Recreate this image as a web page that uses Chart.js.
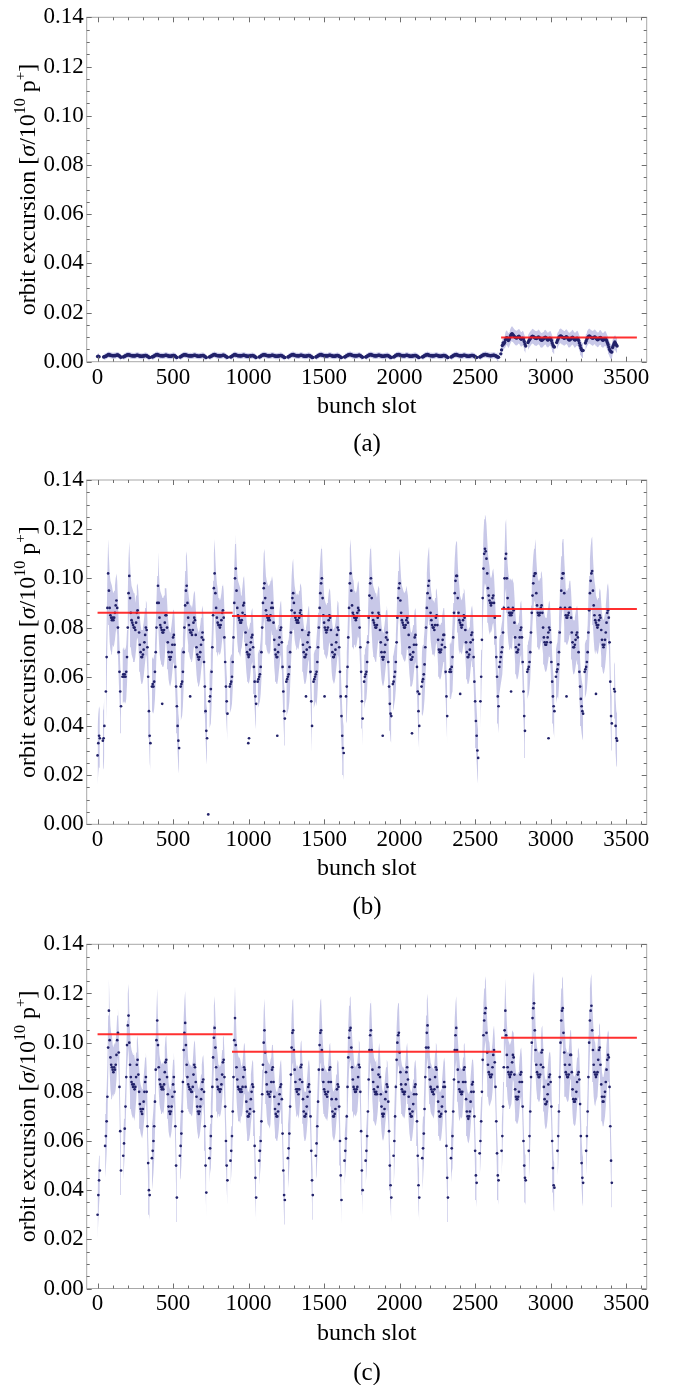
<!DOCTYPE html>
<html>
<head>
<meta charset="utf-8">
<script src="https://cdn.jsdelivr.net/npm/chart.js@4.4.1/dist/chart.umd.min.js"></script>
<style>
html,body{margin:0;padding:0;background:#fff;}
body{width:673px;height:1385px;position:relative;overflow:hidden;}
canvas{position:absolute;left:0;}
.cap{position:absolute;left:87px;width:560px;text-align:center;font-family:'Liberation Serif','DejaVu Serif',serif;font-size:25px;line-height:30px;color:#000;}
</style>
</head>
<body>
<canvas id="ca" width="673" height="462" style="top:0px"></canvas>
<canvas id="cb" width="673" height="462" style="top:462px"></canvas>
<canvas id="cc" width="673" height="461" style="top:924px"></canvas>
<div class="cap" style="top:428px">(a)</div>
<div class="cap" style="top:891px">(b)</div>
<div class="cap" style="top:1357px">(c)</div>
<script>
const _ = null;
// Values every 5 bunch slots, in units of 1e-3 sigma / 1e10 p+
const slotStep = 5;
// Band half-widths, one per 50 bunch slots, same units
const errBlock = 50;

const xTicks = [0, 500, 1000, 1500, 2000, 2500, 3000, 3500];
const xTickLabels = ['0', '500', '1000', '1500', '2000', '2500', '3000', '3500'];
const yTicks = [0, 0.02, 0.04, 0.06, 0.08, 0.10, 0.12, 0.14];
const yTickLabels = ['0.00', '0.02', '0.04', '0.06', '0.08', '0.10', '0.12', '0.14'];

// Average lines (red), per filling segment
const meanStart = [0, 890, 2672];
const meanEnd = [894, 2672, 3571];
const meanA = [_, _, 9.8];
const meanB = [86.0, 84.7, 87.5];
const meanC = [103.4, 96.3, 102.0];

const valuesA = [
2.1,2.2,2.0,_,_,_,_,_,1.9,2.0,2.1,2.2,2.4,2.6,2.8,2.9,2.7,2.6,2.5,2.5,
2.4,2.4,2.5,2.4,2.5,2.6,2.7,2.7,2.5,2.3,2.0,1.8,_,_,1.9,2.1,2.2,2.4,2.5,2.7,
2.8,2.8,2.7,2.6,2.5,2.4,2.4,2.3,2.4,2.3,2.4,2.5,2.6,2.6,2.5,2.4,2.3,2.2,2.2,2.2,
2.3,2.3,2.4,2.5,2.5,2.4,2.2,2.0,1.8,1.7,_,_,1.9,2.0,2.1,2.3,2.5,2.7,2.8,2.9,
2.7,2.6,2.5,2.4,2.4,2.4,2.3,2.4,2.4,2.5,2.6,2.6,2.5,2.4,2.3,2.2,2.2,2.2,2.3,2.4,
2.5,2.5,2.4,2.2,1.9,1.7,_,_,_,1.9,2.0,2.2,2.4,2.6,2.7,2.8,2.8,2.7,2.6,2.5,
2.4,2.4,2.3,2.4,2.3,2.4,2.4,2.5,2.6,2.6,2.5,2.4,2.3,2.2,2.2,2.2,2.3,2.4,2.4,2.5,
2.5,2.3,2.1,1.9,1.7,_,_,_,1.9,2.0,2.2,2.3,2.5,2.7,2.8,2.9,2.7,2.6,2.5,2.4,
2.4,2.4,2.3,2.4,2.4,2.5,2.6,2.6,2.5,2.3,2.1,1.9,1.8,_,_,_,1.9,2.0,2.2,2.4,
2.6,2.8,2.9,2.7,2.6,2.5,2.4,2.4,2.4,2.3,2.4,2.4,2.5,2.6,2.6,2.5,2.4,2.3,2.2,2.2,
2.2,2.2,2.3,2.4,2.4,2.5,2.4,2.3,2.1,1.9,1.7,_,_,_,1.9,2.0,2.2,2.4,2.6,2.7,
2.8,2.8,2.7,2.6,2.5,2.4,2.4,2.3,2.4,2.4,2.5,2.6,2.6,2.5,2.4,2.3,2.2,2.2,2.2,2.3,
2.3,2.4,2.5,2.5,2.4,2.2,2.0,1.8,1.7,_,_,_,1.9,2.0,2.2,2.4,2.6,2.7,2.8,2.9,
2.7,2.6,2.5,2.4,2.4,2.4,2.3,2.4,2.5,2.6,2.6,2.5,2.4,2.3,2.2,2.2,2.2,2.3,2.4,2.5,
2.5,2.4,2.2,2.0,1.8,1.7,_,_,_,1.9,2.0,2.2,2.4,2.6,2.7,2.8,2.9,2.7,2.6,2.5,
2.4,2.4,2.3,2.4,2.3,2.4,2.5,2.6,2.6,2.5,2.4,2.3,2.2,2.2,2.2,2.3,2.4,2.5,2.5,2.4,
2.2,2.0,1.8,1.7,_,_,_,1.9,2.0,2.2,2.4,2.6,2.7,2.8,2.9,2.9,2.7,2.6,2.5,2.4,
2.4,2.4,2.3,2.4,2.4,2.5,2.6,2.6,2.4,2.2,2.0,1.8,_,_,_,1.9,2.0,2.2,2.4,2.6,
2.7,2.8,2.9,2.7,2.6,2.5,2.4,2.4,2.3,2.4,2.4,2.5,2.6,2.6,2.5,2.4,2.3,2.2,2.2,2.2,
2.3,2.4,2.4,2.5,2.5,2.4,2.2,2.0,1.8,1.7,_,_,1.9,2.1,2.3,2.5,2.7,2.8,2.8,2.9,
2.7,2.6,2.5,2.4,2.4,2.4,2.3,2.4,2.5,2.6,2.6,2.5,2.4,2.3,2.2,2.2,2.2,2.3,2.4,2.4,
2.5,2.5,2.4,2.2,2.0,1.8,1.7,_,_,_,1.9,2.0,2.2,2.4,2.6,2.7,2.8,2.9,2.7,2.6,
2.5,2.4,2.4,2.4,2.3,2.4,2.4,2.5,2.6,2.6,2.5,2.4,2.3,2.2,2.2,2.2,2.3,2.4,2.5,2.5,
2.4,2.3,2.1,1.9,1.7,_,_,_,1.9,2.0,2.2,2.4,2.6,2.7,2.8,2.9,2.7,2.6,2.5,2.4,
2.4,2.4,2.3,2.4,2.5,2.6,2.6,2.5,2.4,2.3,2.2,2.2,2.2,2.3,2.4,2.5,2.5,2.5,2.4,2.2,
2.0,1.8,1.7,_,_,_,1.9,2.0,2.2,2.4,2.6,2.7,2.8,2.9,2.9,2.8,2.7,2.6,2.5,2.5,
2.4,2.4,2.5,2.5,2.6,2.6,2.5,2.4,2.2,2.0,1.9,1.8,_,_,3.2,4.8,6.6,7.6,7.2,7.8,
8.8,9.6,9.8,9.2,8.6,9.0,9.8,10.6,11.2,11.4,11.0,10.6,10.2,9.9,9.7,9.6,9.8,10.2,10.4,10.0,
9.4,9.1,9.3,9.6,9.2,8.2,7.2,6.4,_,_,7.8,8.4,8.9,9.3,9.8,10.2,10.4,10.2,10.0,9.7,
9.5,9.4,9.6,9.9,10.1,9.8,9.3,8.9,8.7,8.8,9.1,9.5,9.8,10.0,9.7,9.2,8.8,8.9,9.3,9.6,
9.4,8.6,7.6,6.8,6.2,6.0,_,_,7.8,8.6,9.3,9.9,10.3,10.5,10.4,10.1,9.9,9.7,9.5,9.7,
10.0,10.2,9.8,9.3,8.9,8.8,9.0,9.4,9.8,10.0,9.6,9.1,8.8,8.9,9.3,9.6,9.4,8.6,7.6,6.6,
5.6,4.9,4.5,4.6,_,_,7.6,8.4,9.2,9.8,10.2,10.5,10.3,10.0,9.8,9.6,9.5,9.8,10.1,10.0,
9.6,9.2,8.9,9.0,9.4,9.8,9.9,9.5,9.0,8.7,8.8,9.2,9.5,9.3,8.6,7.8,7.0,6.0,5.0,4.4,
4.0,3.9,5.8,6.6,7.4,8.0,7.4,6.8,6.4
];

const valuesB = [
28,33,36,35,_,_,_,34,35,40,_,54,68,88,102,95,88,85,84,83,
84,83,84,86,89,91,88,80,70,62,54,48,_,60,61,60,61,60,62,68,
80,94,101,92,86,83,82,81,80,80,79,82,86,87,84,78,73,70,68,68,
69,71,74,77,80,79,72,60,46,36,33,_,56,57,56,58,62,70,80,90,
97,90,84,81,80,79,78,78,79,82,85,85,80,74,70,68,67,68,70,73,
76,77,73,64,56,48,40,34,31,_,56,57,58,62,70,80,89,95,97,90,
84,81,79,78,78,77,79,82,84,83,77,72,69,68,67,68,70,73,76,78,
75,66,56,46,38,35,_,_,50,52,55,62,72,85,96,102,94,88,84,82,
81,81,80,81,83,86,87,84,76,66,56,50,45,_,_,56,57,58,60,66,
76,90,100,104,95,88,85,84,83,82,82,83,86,89,90,85,78,73,70,69,
68,69,71,74,76,77,72,64,58,52,49,_,58,59,60,61,64,70,80,90,
96,98,92,87,85,84,83,84,83,85,88,90,88,82,75,71,69,68,68,70,
73,76,79,80,74,64,54,46,43,_,58,59,60,61,64,70,78,87,92,94,
90,86,84,83,82,83,82,84,86,87,85,79,73,70,68,68,69,71,74,77,
78,72,62,50,40,_,58,59,60,61,62,66,72,80,88,94,98,100,92,85,
82,80,79,78,79,80,83,85,84,79,73,70,68,68,69,71,74,77,80,79,
72,62,52,44,36,31,29,_,_,52,56,64,76,88,98,102,95,89,86,85,
84,84,83,84,86,88,87,80,72,62,50,43,_,58,60,61,62,66,74,84,
93,98,100,92,86,83,82,81,80,80,81,84,86,85,79,74,70,68,67,68,
70,73,76,78,75,66,56,49,45,44,_,57,58,60,62,66,74,84,92,96,
98,91,86,83,82,81,80,80,81,83,84,82,77,72,69,67,67,68,70,73,
76,77,73,64,54,46,40,_,_,56,58,59,61,65,72,80,88,94,97,99,
92,86,83,81,80,80,79,81,84,85,81,75,71,70,70,71,73,75,77,77,
72,62,52,44,_,_,62,63,62,64,68,76,86,94,99,101,101,92,86,83,
82,81,80,81,83,85,84,79,74,70,68,68,69,71,74,77,78,75,68,58,
50,42,36,30,27,_,_,50,60,75,92,104,110,112,111,108,102,96,93,91,
90,89,90,92,93,90,84,76,68,60,52,48,64,66,68,70,72,78,88,100,
108,110,100,92,88,86,85,86,85,86,88,87,82,76,72,70,70,71,73,76,
79,80,76,66,54,44,38,_,_,62,63,64,66,70,78,86,93,98,101,102,
102,94,89,86,85,85,86,88,89,86,80,76,74,73,73,74,76,78,80,79,
74,66,58,52,48,46,_,60,62,63,65,70,78,88,95,100,102,102,94,88,
85,84,84,85,86,88,88,84,78,74,72,72,73,75,77,78,76,70,62,56,
51,48,46,45,_,62,63,64,66,70,78,87,94,99,102,103,95,89,85,83,
82,81,80,81,83,85,84,79,75,73,72,73,75,78,82,86,87,84,74,58,
44,41,_,_,55,54,40,35,34
];

const valuesC = [
30,38,44,48,_,_,_,_,_,_,58,62,68,78,98,113,101,94,91,90,
89,88,90,89,91,95,101,104,96,82,64,48,_,_,54,59,65,74,86,99,
107,111,100,91,86,84,83,82,83,81,82,86,91,93,87,80,75,73,72,71,
73,76,80,84,86,80,66,51,40,38,_,_,53,56,60,66,76,89,101,109,
99,90,85,83,82,81,82,81,83,88,92,93,86,79,74,72,71,72,74,78,
83,86,80,66,50,37,_,_,_,54,58,63,72,84,97,104,108,99,91,86,
83,82,81,81,80,80,82,87,91,90,84,78,74,72,71,72,74,77,81,84,
85,80,66,50,39,_,_,_,53,57,62,70,82,94,102,106,98,90,85,82,
81,81,80,81,83,87,92,93,86,74,60,50,44,_,_,_,52,56,62,72,
86,101,110,99,90,85,82,81,81,80,81,80,82,86,90,89,82,76,72,70,
70,71,73,77,80,83,82,72,58,45,37,_,_,_,52,56,60,68,79,91,
100,105,96,88,83,80,79,79,78,80,84,89,90,84,78,73,71,70,70,72,
75,79,82,83,77,63,48,38,36,_,_,_,53,57,63,74,87,98,104,105,
97,89,84,81,80,81,79,81,85,90,91,84,77,72,70,70,71,74,78,82,
83,80,70,56,44,38,_,_,_,54,59,66,76,89,99,104,105,97,89,84,
81,80,79,79,78,80,84,89,90,84,77,72,70,70,71,73,77,81,83,82,
74,60,46,36,_,_,_,52,56,61,70,82,94,102,105,106,98,90,85,82,
81,80,80,81,82,86,91,90,80,64,48,40,_,_,_,52,56,62,72,85,
97,103,105,97,89,84,81,80,79,80,79,82,87,90,86,79,74,71,70,71,
73,77,80,83,82,76,64,50,42,37,_,_,54,60,70,82,93,100,103,104,
96,88,83,81,80,80,79,80,83,88,90,85,78,73,71,70,70,72,75,79,
82,83,79,68,54,42,37,_,_,_,53,57,63,73,86,98,104,107,98,90,
85,82,81,80,80,79,81,86,90,89,82,76,72,70,70,71,74,78,82,84,
82,72,58,45,37,_,_,_,53,57,62,72,85,97,103,106,97,89,84,81,
80,80,79,80,84,89,90,84,77,72,70,69,70,72,76,80,83,84,80,70,
56,46,43,_,_,_,55,60,68,80,93,103,109,112,114,104,96,91,88,87,
86,86,87,90,95,97,92,82,68,55,46,44,_,_,_,56,62,74,90,105,
113,103,95,90,88,87,86,87,88,92,95,94,87,81,78,77,77,78,80,84,
87,88,84,74,60,50,45,44,_,_,_,56,62,72,86,100,110,114,116,105,
97,91,88,87,86,86,87,91,96,97,90,82,77,75,75,76,79,83,86,87,
84,74,60,49,42,41,_,_,_,56,62,72,86,100,109,113,114,104,96,91,
88,87,86,86,87,91,95,95,88,81,77,76,76,77,80,84,87,88,85,75,
62,51,45,43,_,_,_,56,62,72,86,100,109,113,115,105,97,91,88,87,
86,87,88,93,97,98,91,83,78,76,76,78,80,84,89,93,95,94,82,66,
52,43,_,_,_,_,_,_,_
];

const errA = [
1.2,1.2,1.2,1.2,1.2,1.2,1.2,1.2,1.2,1.2,
1.2,1.2,1.2,1.2,1.2,1.2,1.2,1.2,1.2,1.2,
1.2,1.2,1.2,1.2,1.2,1.2,1.2,1.2,1.2,1.2,
1.2,1.2,1.2,1.2,1.2,1.2,1.2,1.2,1.2,1.2,
1.2,1.2,1.2,1.2,1.2,1.2,1.2,1.2,1.2,1.2,
1.2,1.2,1.2,2.2,3.0,3.0,3.0,3.0,3.0,3.0,
3.0,3.0,3.0,3.0,3.0,3.0,3.0,3.0,3.0
];
const errB = [
12,14,11,11,14,11,11,11,14,11,
11,14,11,11,11,14,11,11,14,11,
11,11,14,11,11,14,11,11,11,14,
11,11,11,14,11,11,14,11,11,11,
14,11,11,14,11,11,11,14,11,11,
11,14,11,11,14,11,11,11,14,11,
11,14,11,11,11,14,11,11,11
];
const errC = [
10,13,10,10,13,10,10,13,10,10,
10,13,10,10,10,13,10,10,13,10,
10,10,13,10,10,13,10,10,10,13,
10,10,10,13,10,10,13,10,10,13,
10,10,10,13,10,10,10,13,10,10,
10,13,10,10,13,10,10,13,10,10,
10,13,10,10,10,13,10,10,10
];

// Isolated bunches off the main pattern in (b)
const outlierSlotsB = [428, 613, 733, 998, 1003, 1190, 1380, 1503, 1888, 2082, 2130, 2401, 2738, 2986, 3105, 3300];
const outlierValuesB = [49, 52, 4, 33, 35, 36, 52, 52, 36, 37, 53, 53, 54, 35, 52, 53];

const FONT = "'Liberation Serif','DejaVu Serif',serif";
const DOT = '#22226a';
const BAND = 'rgba(118,118,198,0.40)';
const RED = 'rgba(255,25,25,0.9)';

const yTitleRuns = [
  {text: 'orbit excursion [', size: 24, style: 'normal', rise: 0},
  {text: 'σ', size: 24, style: 'italic', rise: 0},
  {text: '/10', size: 24, style: 'normal', rise: 0},
  {text: '10', size: 16, style: 'normal', rise: 10},
  {text: ' p', size: 24, style: 'normal', rise: 0},
  {text: '+', size: 15, style: 'normal', rise: 10},
  {text: ']', size: 24, style: 'normal', rise: 0}
];

const framePlugin = {
  id: 'frameTicks',
  afterDatasetsDraw(chart) {
    const {ctx, chartArea, scales} = chart;
    const {left, right, top, bottom} = chartArea;
    ctx.save();
    ctx.strokeStyle = '#a8a8a8';
    ctx.lineWidth = 1;
    ctx.strokeRect(left, top, right - left, bottom - top);
    ctx.strokeStyle = '#6e6e6e';
    ctx.beginPath();
    for (let v = 0; v <= 3600; v += 100) {
      const px = Math.round(scales.x.getPixelForValue(v)) + 0.5;
      const len = (v % 500 === 0) ? 5 : 3;
      ctx.moveTo(px, bottom); ctx.lineTo(px, bottom - len);
      ctx.moveTo(px, top); ctx.lineTo(px, top + len);
    }
    for (let k = 0; k <= 28; k++) {
      const py = Math.round(scales.y.getPixelForValue(k * 0.005)) + 0.5;
      const len = (k % 4 === 0) ? 5 : 3;
      ctx.moveTo(left, py); ctx.lineTo(left + len, py);
      ctx.moveTo(right, py); ctx.lineTo(right - len, py);
    }
    ctx.stroke();
    ctx.restore();
  },
  afterDraw(chart) {
    const {ctx, chartArea} = chart;
    const cy = (chartArea.top + chartArea.bottom) / 2;
    ctx.save();
    ctx.translate(35, cy);
    ctx.rotate(-Math.PI / 2);
    ctx.fillStyle = '#000';
    ctx.textBaseline = 'alphabetic';
    let total = 0;
    const widths = [];
    for (const r of yTitleRuns) {
      ctx.font = r.style + ' ' + r.size + 'px ' + FONT;
      const w = ctx.measureText(r.text).width;
      widths.push(w); total += w;
    }
    let xx = -total / 2;
    yTitleRuns.forEach((r, i) => {
      ctx.font = r.style + ' ' + r.size + 'px ' + FONT;
      ctx.fillText(r.text, xx, -r.rise);
      xx += widths[i];
    });
    ctx.restore();
  }
};

function makeChart(cfg) {
  const dots = [], upper = [], lower = [];
  cfg.values.forEach((v, i) => {
    const x = i * slotStep;
    if (v === null) {
      dots.push({x, y: null}); upper.push({x, y: null}); lower.push({x, y: null});
      return;
    }
    const e = cfg.errs[Math.floor(x / errBlock)];
    dots.push({x, y: v / 1000});
    upper.push({x, y: (v + e) / 1000});
    lower.push({x, y: Math.max(v - e, 0) / 1000});
  });
  const datasets = [
    {data: lower, borderWidth: 0, pointRadius: 0, fill: false, order: 5, spanGaps: false},
    {data: upper, borderWidth: 0, pointRadius: 0, fill: '-1', backgroundColor: BAND, order: 5, spanGaps: false},
    {data: dots, showLine: false, pointRadius: cfg.dotR, pointBackgroundColor: DOT, pointBorderWidth: 0, order: 2}
  ];
  if (cfg.outX.length) {
    datasets.push({data: cfg.outX.map((s, i) => ({x: s, y: cfg.outY[i] / 1000})), showLine: false,
      pointRadius: cfg.dotR, pointBackgroundColor: DOT, pointBorderWidth: 0, order: 2});
  }
  cfg.means.forEach((m, i) => {
    if (m === null) return;
    datasets.push({data: [{x: meanStart[i], y: m / 1000}, {x: meanEnd[i], y: m / 1000}],
      borderColor: RED, borderWidth: 2, pointRadius: 0, fill: false, order: 0});
  });

  return new Chart(document.getElementById(cfg.id), {
    type: 'line',
    data: {datasets},
    options: {
      responsive: false,
      animation: false,
      events: [],
      layout: {padding: {top: cfg.padTop, right: 26.3, left: 0, bottom: 0}},
      elements: {line: {tension: 0}},
      plugins: {legend: {display: false}, tooltip: {enabled: false}},
      scales: {
        x: {
          type: 'linear', min: -72, max: 3636,
          afterBuildTicks: s => { s.ticks = xTicks.map(v => ({value: v})); },
          afterFit: s => { s.height = cfg.xHeight; },
          grid: {display: false, drawTicks: false},
          border: {display: false},
          ticks: {
            autoSkip: false, maxRotation: 0, minRotation: 0, padding: 2, color: '#000',
            font: {family: FONT, size: 23},
            callback: v => xTickLabels[xTicks.indexOf(v)]
          },
          title: {display: true, text: 'bunch slot', color: '#000',
            font: {family: FONT, size: 24}, padding: {top: 0, bottom: cfg.titlePad}}
        },
        y: {
          type: 'linear', min: 0, max: 0.14,
          afterBuildTicks: s => { s.ticks = yTicks.map(v => ({value: v})); },
          afterFit: s => { s.width = 86.7; },
          grid: {display: false, drawTicks: false},
          border: {display: false},
          ticks: {
            padding: 3, color: '#000',
            font: {family: FONT, size: 23},
            callback: v => yTickLabels[yTicks.indexOf(v)]
          }
        }
      }
    },
    plugins: [framePlugin]
  });
}

makeChart({id: 'ca', values: valuesA, errs: errA, means: meanA, outX: [], outY: [], padTop: 17.3, xHeight: 100.3, titlePad: 41, dotR: 1.7});
makeChart({id: 'cb', values: valuesB, errs: errB, means: meanB, outX: outlierSlotsB, outY: outlierValuesB, padTop: 18, xHeight: 99.7, titlePad: 41.3, dotR: 1.35});
makeChart({id: 'cc', values: valuesC, errs: errC, means: meanC, outX: [], outY: [], padTop: 20.3, xHeight: 96.5, titlePad: 37.3, dotR: 1.35});
</script>
</body>
</html>
